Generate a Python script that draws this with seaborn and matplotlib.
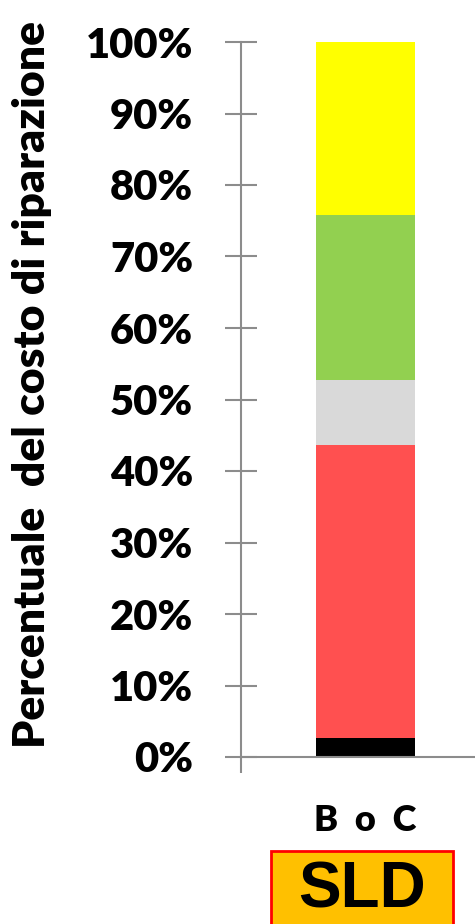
import numpy as np
import pandas as pd
import seaborn as sns
import matplotlib.pyplot as plt
from matplotlib.patches import Rectangle

# stacked shares of repair cost (fractions), bottom to top
category = ['B o C']
components = ['black', 'red', 'grey', 'green', 'yellow']
shares = [0.027, 0.409, 0.091, 0.231, 0.242]
colors = ['#000000', '#FF5050', '#D9D9D9', '#92D050', '#FFFF00']
yticks = np.arange(0, 1.01, 0.1)
ytick_labels = [f'{int(round(t * 100))}%' for t in yticks]

sns.set_style('white')
plt.rcParams['font.family'] = ['Lato', 'DejaVu Sans']
plt.rcParams['text.color'] = 'black'
plt.rcParams['xtick.labelcolor'] = 'black'
plt.rcParams['ytick.labelcolor'] = 'black'

fig = plt.figure(figsize=(4.75, 9.24), dpi=100)
ax = fig.add_axes([241 / 475, 1 - 757 / 924, 1 - 241 / 475, (757 - 42) / 924])

cum = np.cumsum(shares)
# draw from the top of the stack down so each lower segment covers the one above
for i in range(len(shares) - 1, -1, -1):
    df = pd.DataFrame({'cat': category, 'val': [cum[i]]})
    sns.barplot(data=df, x='cat', y='val', color=colors[i], width=0.423,
                saturation=1, linewidth=0, ax=ax)

ax.set_xlim(-0.53, 0.47)
ax.set_ylim(0, 1)
ax.set_yticks(yticks)
ax.set_yticklabels(ytick_labels, fontsize=30, fontweight='heavy')
ax.set_xlabel('')
ax.set_ylabel('')

for s in ['top', 'right']:
    ax.spines[s].set_visible(False)
for s in ['left', 'bottom']:
    ax.spines[s].set_color('#8C8C8C')
    ax.spines[s].set_linewidth(1.5)

ax.tick_params(axis='y', direction='inout', length=23, width=1.5,
               color='#8C8C8C', pad=23, left=True)
ax.tick_params(axis='x', which='major', length=0, pad=34,
               labelsize=26)
ax.set_xticks([-0.53], minor=True)
ax.tick_params(axis='x', which='minor', direction='out', length=11.5,
               width=1.5, color='#8C8C8C', bottom=True)
for lab in ax.get_xticklabels():
    lab.set_fontweight('heavy')
ax.set_xticklabels(['B  o  C'])

fig.text(32 / 475, 1 - 384 / 924, 'Percentuale  del costo di riparazione',
         rotation=90, ha='center', va='center', fontsize=32, fontweight='heavy')

fig.patches.append(Rectangle((271 / 475, -0.02), 182 / 475, 0.02 + 1 - 851 / 924,
                             transform=fig.transFigure, facecolor='#FFC000',
                             edgecolor='#FF0000', linewidth=2))
fig.text(362 / 475, 1 - 890 / 924, 'SLD', ha='center', va='center',
         fontsize=46, fontweight='bold', family='Liberation Sans')

fig.savefig('out.png', dpi=100)
